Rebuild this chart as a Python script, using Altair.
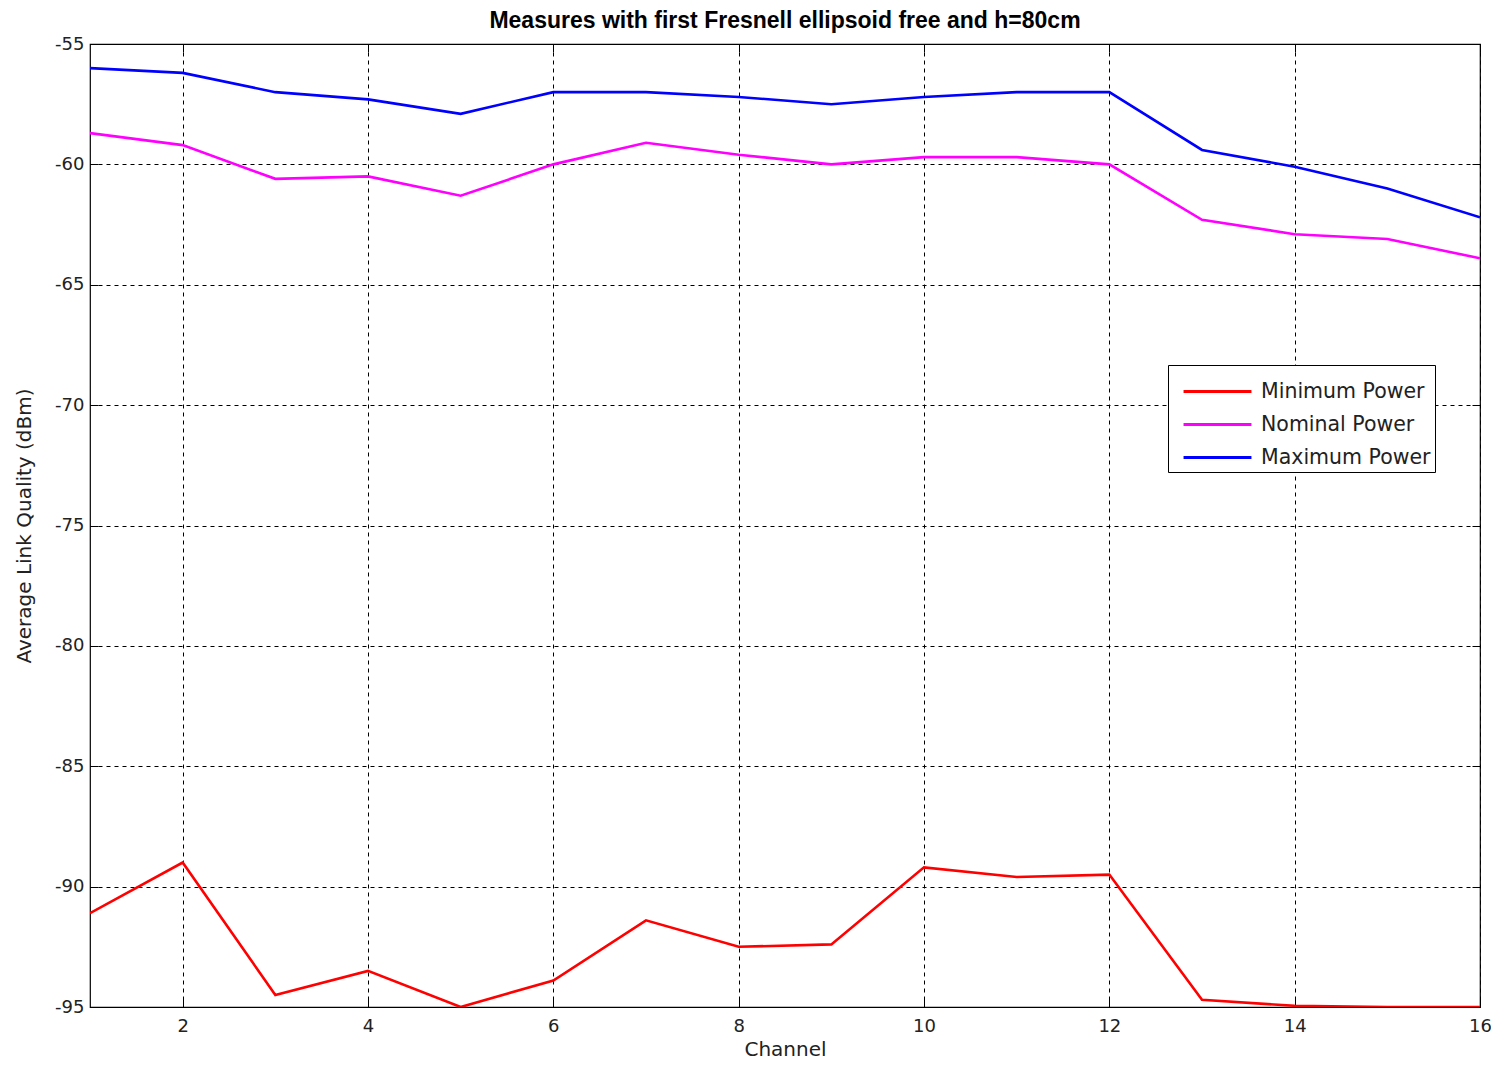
import altair as alt
import pandas as pd

channels = list(range(1, 17))
series_names = ["Minimum Power", "Nominal Power", "Maximum Power"]
minimum_power = [-91.1, -89.0, -94.5, -93.5, -95.0, -93.9, -91.4, -92.5,
                 -92.4, -89.2, -89.6, -89.5, -94.7, -94.95, -95.0, -95.0]
nominal_power = [-58.7, -59.2, -60.6, -60.5, -61.3, -60.0, -59.1, -59.6,
                 -60.0, -59.7, -59.7, -60.0, -62.3, -62.9, -63.1, -63.9]
maximum_power = [-56.0, -56.2, -57.0, -57.3, -57.9, -57.0, -57.0, -57.2,
                 -57.5, -57.2, -57.0, -57.0, -59.4, -60.1, -61.0, -62.2]
x_ticks = [2, 4, 6, 8, 10, 12, 14, 16]
y_ticks = [-95, -90, -85, -80, -75, -70, -65, -60, -55]
colors = ["#ff0000", "#ff00ff", "#0000ff"]

rows = []
for name, vals in zip(series_names, [minimum_power, nominal_power, maximum_power]):
    for ch, v in zip(channels, vals):
        rows.append({"Channel": ch, "Value": v, "Series": name})
df = pd.DataFrame(rows)

FONT = "DejaVu Sans"
x_scale = alt.Scale(domain=[1, 16], nice=False, zero=False)
y_scale = alt.Scale(domain=[-95, -55], nice=False, zero=False)

base = alt.Chart(df)

lines = base.mark_line(strokeWidth=2.6, clip=True).encode(
    x=alt.X("Channel:Q", scale=x_scale,
            axis=alt.Axis(values=x_ticks, title="Channel", grid=True,
                          domain=False, ticks=True, tickSize=8, offset=-8,
                          tickColor="black", tickWidth=1,
                          labelPadding=10, titlePadding=4, labelFlush=False)),
    y=alt.Y("Value:Q", scale=y_scale,
            axis=alt.Axis(values=y_ticks, title="Average Link Quality (dBm)",
                          grid=True, domain=False, ticks=True, tickSize=8, offset=-8,
                          tickColor="black", tickWidth=1,
                          labelPadding=6, titlePadding=20, labelFlush=False,
                          labelExpr="'' + datum.value")),
    color=alt.Color("Series:N",
                    scale=alt.Scale(domain=series_names, range=colors),
                    legend=alt.Legend(title=None, orient="none",
                                      legendX=1078, legendY=321,
                                      symbolType="M-1.64,0H1.64", symbolSize=1714,
                                      symbolStrokeWidth=3, symbolOffset=23,
                                      labelFont=FONT, labelFontSize=20.5,
                                      labelColor="#222222", labelLimit=400,
                                      fillColor="white", strokeColor="black",
                                      padding=4, rowPadding=0,
                                      labelOffset=21)),
    order=alt.Order("Channel:Q"),
)

frame_ticks = base.mark_line(opacity=0).encode(
    x=alt.X("Channel:Q", scale=x_scale,
            axis=alt.Axis(orient="top", values=x_ticks, title=None, labels=False,
                          grid=False, domain=False, ticks=True, tickSize=8,
                          offset=-8, tickColor="black", tickWidth=1)),
    y=alt.Y("Value:Q", scale=y_scale,
            axis=alt.Axis(orient="right", values=y_ticks, title=None, labels=False,
                          grid=False, domain=False, ticks=True, tickSize=8,
                          offset=-8, tickColor="black", tickWidth=1)),
    detail="Series:N",
)

chart = alt.layer(lines, frame_ticks).resolve_axis(
    x="independent", y="independent"
).properties(
    width=1390,
    height=963,
    background="white",
    title=alt.Title("Measures with first Fresnell ellipsoid free and h=80cm",
                    font="Liberation Sans", fontSize=23, fontWeight="bold",
                    color="black", offset=2),
    autosize=alt.AutoSizeParams(type="none"),
    padding={"left": 82, "top": 36, "right": 11, "bottom": 54},
).configure_view(
    stroke="black", strokeWidth=1.2
).configure_axis(
    gridColor="black", gridDash=[4, 4], gridOpacity=1, gridWidth=1,
    domainColor="black", domainWidth=1.2,
    labelFont=FONT, labelFontSize=18, labelColor="#222222",
    titleFont=FONT, titleFontSize=20, titleFontWeight="normal", titleColor="#222222",
)

chart.save("out.html", embed_options={"renderer": "svg", "actions": False})
